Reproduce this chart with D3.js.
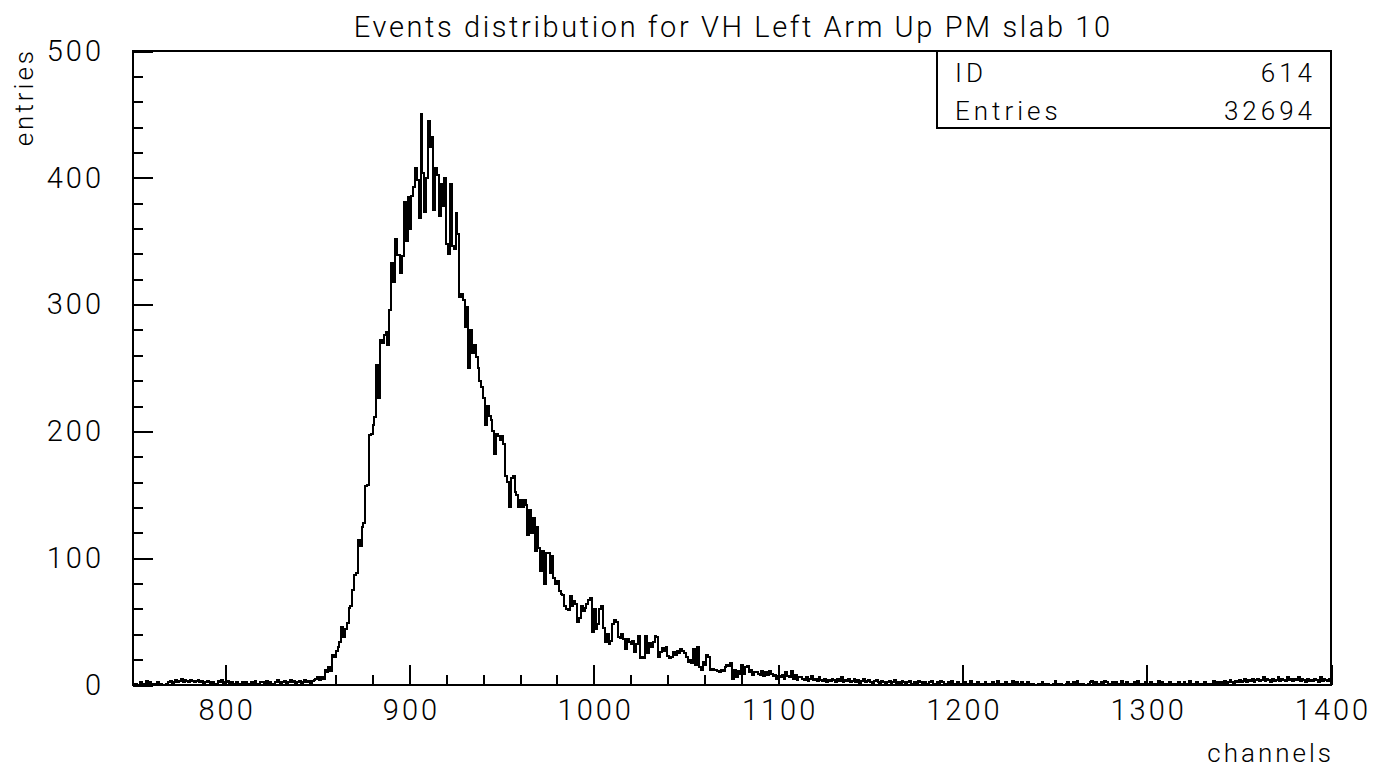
<!DOCTYPE html>
<html>
<head>
<meta charset="utf-8">
<script src="https://cdn.jsdelivr.net/npm/d3@7"></script>
<style>
  body { margin: 0; background: #fff; }
  svg text { font-family: Roboto, "DejaVu Sans", sans-serif; font-weight: 300; fill: #000; }
</style>
</head>
<body>
<div id="chart"></div>
<script>
// define constants
const w = 1383;
const h = 769;
const padLeft = 133, padRight = 1331, padTop = 51, padBottom = 685;
const firstChannel = 750;

// histogram contents, one bin per channel
// channels 750 - 850
const baseLeft = [
  0, 1, 0, 0, 2, 1, 0, 3, 1, 2,
  1, 0, 1, 2, 0, 1, 0, 0, 1, 2,
  3, 1, 2, 4, 2, 3, 5, 2, 4, 3,
  2, 4, 3, 2, 3, 4, 2, 3, 1, 2,
  3, 2, 1, 2, 0, 1, 3, 2, 4, 1,
  2, 3, 1, 2, 1, 0, 2, 1, 1, 2,
  1, 2, 0, 1, 2, 1, 3, 1, 0, 2,
  2, 1, 3, 1, 2, 0, 1, 2, 4, 2,
  1, 2, 3, 1, 2, 4, 2, 3, 1, 2,
  3, 1, 2, 4, 2, 3, 1, 3, 4, 5,
  6
];
// channels 851 - 900
const rise = [
  4, 6, 5, 12, 10, 14, 11, 24, 22, 27,
  30, 34, 46, 38, 44, 49, 61, 62, 75, 87,
  88, 114, 110, 125, 128, 157, 158, 197, 198, 205,
  211, 252, 226, 272, 270, 276, 278, 268, 296, 333,
  318, 352, 339, 339, 325, 338, 381, 350, 385, 360
];
// channels 901 - 950
const peak = [
  386, 393, 408, 398, 368, 450, 404, 373, 400, 445,
  424, 432, 375, 408, 402, 370, 395, 378, 400, 348,
  340, 395, 346, 344, 372, 356, 306, 308, 304, 282,
  298, 250, 280, 262, 268, 259, 250, 240, 235, 226,
  205, 220, 212, 209, 200, 182, 198, 196, 193, 196
];
// channels 951 - 1000
const fall = [
  190, 165, 160, 140, 163, 165, 152, 150, 140, 146,
  140, 146, 142, 118, 138, 120, 132, 106, 125, 108,
  90, 106, 80, 104, 104, 88, 102, 84, 80, 82,
  74, 72, 71, 62, 60, 59, 70, 62, 66, 64,
  50, 53, 62, 58, 61, 64, 67, 69, 42, 60
];
// channels 1001 - 1129
const tail = [
  44, 48, 60, 62, 45, 34, 40, 32, 35, 48,
  51, 50, 38, 37, 40, 36, 28, 36, 34, 32,
  35, 26, 32, 39, 21, 22, 21, 39, 25, 33,
  30, 34, 39, 38, 22, 26, 29, 27, 30, 23,
  21, 22, 26, 24, 27, 25, 28, 27, 25, 22,
  18, 20, 17, 28, 16, 30, 14, 12, 18, 16,
  24, 22, 12, 13, 12, 12, 11, 10, 12, 11,
  14, 16, 15, 17, 5, 12, 6, 11, 9, 16,
  9, 14, 15, 10, 12, 8, 10, 10, 9, 8,
  11, 7, 10, 8, 11, 9, 7, 8, 5, 7,
  6, 8, 5, 10, 7, 6, 11, 5, 8, 4,
  6, 6, 5, 4, 6, 3, 5, 7, 4, 5,
  3, 6, 4, 3, 5, 2, 4, 3, 5
];
// channels 1130 - 1399
const baseRight = [
  4, 2, 5, 3, 6, 2, 4, 3, 5, 2,
  3, 5, 2, 4, 1, 3, 5, 2, 3, 4,
  2, 1, 3, 4, 2, 1, 3, 2, 0, 2,
  3, 1, 2, 4, 1, 2, 0, 3, 2, 1,
  2, 3, 1, 0, 2, 1, 3, 2, 1, 2,
  0, 1, 2, 3, 1, 0, 2, 1, 3, 2,
  1, 0, 2, 1, 3, 1, 0, 2, 1, 0,
  1, 2, 0, 1, 3, 1, 0, 1, 2, 0,
  1, 0, 2, 1, 0, 1, 2, 0, 1, 3,
  1, 0, 1, 2, 0, 1, 0, 3, 1, 2,
  0, 1, 2, 1, 0, 2, 1, 0, 1, 0,
  0, 1, 0, 2, 1, 0, 1, 0, 0, 1,
  3, 1, 0, 1, 0, 0, 1, 2, 0, 1,
  2, 1, 3, 1, 0, 1, 0, 0, 1, 2,
  3, 1, 2, 0, 1, 2, 1, 3, 2, 1,
  0, 2, 1, 2, 0, 1, 3, 1, 0, 2,
  1, 0, 1, 2, 0, 3, 1, 0, 1, 2,
  1, 0, 2, 1, 0, 1, 3, 1, 2, 0,
  1, 0, 2, 1, 0, 1, 0, 2, 1, 0,
  2, 1, 0, 3, 1, 0, 1, 2, 0, 1,
  0, 2, 1, 0, 1, 0, 3, 1, 2, 1,
  2, 1, 3, 1, 2, 4, 2, 1, 3, 2,
  4, 2, 3, 5, 2, 4, 3, 5, 2, 4,
  5, 3, 4, 6, 3, 5, 4, 2, 5, 3,
  4, 6, 3, 5, 4, 3, 6, 4, 5, 3,
  5, 4, 6, 3, 5, 4, 2, 5, 3, 4,
  3, 5, 4, 2, 6, 3, 5, 4, 3, 5
];

// axis ticks and labels
const xMajor = [800, 900, 1000, 1100, 1200, 1300, 1400];
const xMinor = [860, 880, 920, 940, 960, 980, 1020, 1040, 1060, 1080];
const yMajor = [0, 100, 200, 300, 400, 500];
const yMinor = [20, 40, 60, 80, 120, 140, 160, 180, 220, 240, 260, 280, 320, 340, 360, 380, 420, 440, 460, 480];
const title = "Events distribution for VH Left Arm Up PM slab 10";
const xTitle = "channels";
const yTitle = "entries";
const statNames = ["ID", "Entries"];
const statValues = ["614", "32694"];

const counts = baseLeft.concat(rise, peak, fall, tail, baseRight);

const svg = d3.select("#chart").append("svg").attr("width", w).attr("height", h);

// define scales
const xScale = d3.scaleLinear().domain([750, 1400]).range([padLeft, padRight]);
const yScale = d3.scaleLinear().domain([0, 500]).range([padBottom, padTop]);

// histogram outline as steps
const bins = counts.map((v, i) => [firstChannel + i, v]);
bins.push([firstChannel + counts.length, counts[counts.length - 1]]);
const line = d3.line()
    .x(d => xScale(d[0]))
    .y(d => yScale(d[1]))
    .curve(d3.curveStepAfter);

svg.append("path")
    .datum(bins)
    .attr("fill", "none")
    .attr("stroke", "#000")
    .attr("stroke-width", 2)
    .attr("shape-rendering", "crispEdges")
    .attr("d", line);

// axes, ticks pointing into the frame
// the wide letter spacing imitates the old plotting font
const ls = 3;
const styleAxis = (g) => {
    g.select(".domain").remove();
    g.selectAll("line").attr("stroke", "#000").attr("stroke-width", 2).attr("shape-rendering", "crispEdges");
    g.selectAll("text").attr("font-size", 29).attr("font-family", null).attr("letter-spacing", ls);
};

svg.append("g")
    .attr("transform", "translate(0," + padBottom + ")")
    .call(d3.axisBottom(xScale).tickValues(xMajor).tickSize(-20).tickPadding(14).tickFormat(d3.format("d")))
    .call(styleAxis)
    .call(g => g.selectAll("text").attr("dx", ls / 2));

svg.append("g")
    .attr("transform", "translate(0," + padBottom + ")")
    .call(d3.axisBottom(xScale).tickValues(xMinor).tickSize(-10).tickFormat(""))
    .call(styleAxis);

svg.append("g")
    .attr("transform", "translate(" + padLeft + ",0)")
    .call(d3.axisLeft(yScale).tickValues(yMajor).tickSize(-20).tickPadding(32 - ls).tickFormat(d3.format("d")))
    .call(styleAxis);

svg.append("g")
    .attr("transform", "translate(" + padLeft + ",0)")
    .call(d3.axisLeft(yScale).tickValues(yMinor).tickSize(-10).tickFormat(""))
    .call(styleAxis);

// frame
svg.append("rect")
    .attr("x", padLeft).attr("y", padTop)
    .attr("width", padRight - padLeft).attr("height", padBottom - padTop)
    .attr("fill", "none").attr("stroke", "#000").attr("stroke-width", 2)
    .attr("shape-rendering", "crispEdges");

// titles
svg.append("text")
    .attr("x", (padLeft + padRight) / 2 + 1.3).attr("y", 37)
    .attr("text-anchor", "middle").attr("font-size", 29)
    .attr("letter-spacing", 2.6)
    .text(title);

svg.append("text")
    .attr("x", padRight + ls).attr("y", 762)
    .attr("text-anchor", "end").attr("font-size", 26)
    .attr("letter-spacing", ls)
    .text(xTitle);

svg.append("text")
    .attr("transform", "translate(33," + (padTop - ls) + ") rotate(-90)")
    .attr("text-anchor", "end").attr("font-size", 26)
    .attr("letter-spacing", ls)
    .text(yTitle);

// statistics box
const boxLeft = 937, boxBottom = 128;
svg.append("rect")
    .attr("x", boxLeft).attr("y", padTop)
    .attr("width", padRight - boxLeft).attr("height", boxBottom - padTop)
    .attr("fill", "#fff").attr("stroke", "#000").attr("stroke-width", 2)
    .attr("shape-rendering", "crispEdges");

statNames.forEach((name, i) => {
    svg.append("text")
        .attr("x", boxLeft + 18).attr("y", 82 + i * 38)
        .attr("font-size", 26).attr("letter-spacing", 4)
        .text(name);
    svg.append("text")
        .attr("x", padRight - 19 + 4).attr("y", 82 + i * 38)
        .attr("text-anchor", "end").attr("font-size", 26).attr("letter-spacing", 4)
        .text(statValues[i]);
});
</script>
</body>
</html>
